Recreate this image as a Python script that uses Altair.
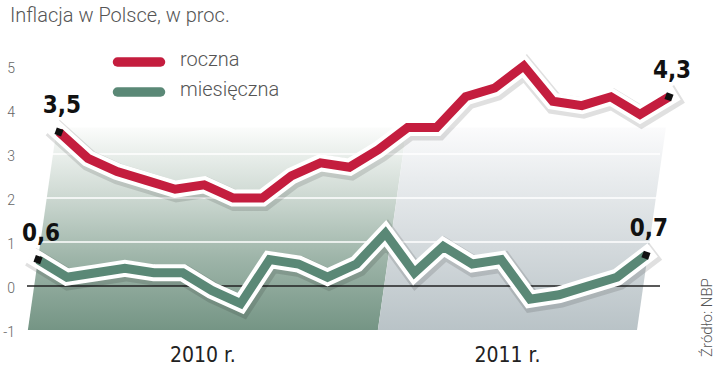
import altair as alt
import pandas as pd

# ---------------- data ----------------
months = list(range(22))  # styczeń 2010 .. październik 2011
roczna = [3.5, 2.9, 2.6, 2.4, 2.2, 2.3, 2.0, 2.0, 2.5, 2.8, 2.7, 3.1,
          3.6, 3.6, 4.3, 4.5, 5.0, 4.2, 4.1, 4.3, 3.9, 4.3]
miesieczna = [0.6, 0.2, 0.3, 0.4, 0.3, 0.3, -0.1, -0.4, 0.6, 0.5, 0.2, 0.5,
              1.2, 0.3, 0.9, 0.5, 0.6, -0.3, -0.2, 0.0, 0.2, 0.7]
series_names = ["roczna", "miesięczna"]
year_labels = ["2010 r.", "2011 r."]
year_start = [-0.35, 11.74]   # year panel edges in months (at the bottom)
year_end = [11.74, 20.69]
panel_skew = 1.0              # perspective lean of the panels (months)
panel_y = [-1, 3.6]
grid_values = [1, 2, 3]
y_ticks = [-1, 0, 1, 2, 3, 4, 5]
title_text = "Inflacja w Polsce, w proc."
source_text = "Źródło: NBP"

RED = "#c41d3e"
GREEN = "#5a8876"
COND = "Liberation Sans Narrow, DejaVu Sans Condensed, Roboto, sans-serif"
LIGHT = "Roboto, Liberation Sans, sans-serif"

df_r = pd.DataFrame({"idx": months, "v": roczna, "series": series_names[0]})
df_m = pd.DataFrame({"idx": months, "v": miesieczna, "series": series_names[1]})

rows = []
for name, s, e in zip(year_labels, year_start, year_end):
    rows.append({"panel": name, "y": panel_y[0], "xl": s, "xr": e})
    rows.append({"panel": name, "y": panel_y[1], "xl": s + panel_skew, "xr": e + panel_skew})
panel_df = pd.DataFrame(rows)
year_df = pd.DataFrame({"label": year_labels,
                        "x": [(s + e) / 2 for s, e in zip(year_start, year_end)],
                        "y": [panel_y[0]] * 2})
tick_df = pd.DataFrame({"t": y_ticks})

yscale = alt.Scale(domain=[-1, 5.5], nice=False, zero=False)
green_x = alt.Scale(domain=[-0.38, 21.485], nice=False, zero=False)
red_x = alt.Scale(domain=[-1.10, 20.69], nice=False, zero=False)


def grad(stops):
    return alt.Gradient(gradient="linear", x1=0, x2=0, y1=1, y2=0,
                        stops=[alt.GradientStop(color=c, offset=o) for o, c in stops])


area10 = alt.Chart(panel_df).transform_filter(alt.datum.panel == year_labels[0]).mark_area(
    orient="horizontal",
    color=grad([(0, "#759585"), (0.35, "#9db4a8"), (0.7, "#d3ddd7"), (1, "#fbfcfb")]),
).encode(
    y=alt.Y("y:Q", scale=yscale, axis=None),
    x=alt.X("xl:Q", scale=green_x, axis=None),
    x2="xr:Q",
)
area11 = alt.Chart(panel_df).transform_filter(alt.datum.panel == year_labels[1]).mark_area(
    orient="horizontal",
    color=grad([(0, "#b9c3c7"), (0.4, "#d3d9dc"), (0.75, "#e9ecee"), (1, "#fbfbfc")]),
).encode(
    y=alt.Y("y:Q", scale=yscale, axis=None),
    x=alt.X("xl:Q", scale=green_x, axis=None),
    x2="xr:Q",
)

ylabels = alt.Chart(tick_df).mark_text(
    align="right", baseline="middle", font=LIGHT, fontSize=14, fontWeight=300,
    color="#666", dy=3
).encode(
    x=alt.value(-12),
    y=alt.Y("t:Q", scale=yscale, axis=None),
    text="t:N",
)

grid = alt.Chart(pd.DataFrame({"g": grid_values})).mark_rule(
    color="white", strokeWidth=1.5
).encode(y=alt.Y("g:Q", scale=yscale, axis=None))

zero = alt.Chart(pd.DataFrame({"g": [0]})).mark_rule(
    color="#222", strokeWidth=1.3
).encode(y=alt.Y("g:Q", scale=yscale, axis=None))

years = alt.Chart(year_df).mark_text(
    font=COND, fontSize=21, color="#222", baseline="alphabetic", dy=32
).encode(
    x=alt.X("x:Q", scale=green_x, axis=None),
    y=alt.Y("y:Q", scale=yscale, axis=None),
    text="label:N",
)


def line_layers(df, scale, color):
    last = df["idx"].max()
    base = alt.Chart(df).encode(
        x=alt.X("idx:Q", scale=scale, axis=None),
        y=alt.Y("v:Q", scale=yscale, axis=None),
    )
    shadow = base.mark_line(color="#000", opacity=0.12, strokeWidth=21,
                            yOffset=2.5, xOffset=1.5, strokeJoin="miter", strokeCap="square")
    white = base.mark_line(color="white", strokeWidth=17, strokeJoin="miter", strokeCap="square")
    col = base.mark_line(color=color, strokeWidth=9, strokeJoin="miter")
    ends = base.transform_filter((alt.datum.idx == 0) | (alt.datum.idx == int(last)))
    marker = ends.mark_point(shape="square", filled=True, color="#111", size=50,
                             angle=20, opacity=1)
    label = ends.transform_calculate(
        lab="replace(format(datum.v, '.1f'), '.', ',')"
    ).mark_text(font=COND, fontSize=24, fontWeight="bold", color="#111",
                baseline="alphabetic", dy=-19, dx=3).encode(text="lab:N")
    return [shadow, white, col, marker, label]


legend_layers = []
for i, (name, color) in enumerate(zip(series_names, [RED, GREEN])):
    ly = 18 + 30 * i
    ldf = pd.DataFrame({"s": [name]})
    legend_layers.append(
        alt.Chart(ldf).mark_rule(color=color, strokeWidth=9.5, strokeCap="round").encode(
            x=alt.value(90.5), x2=alt.value(133.5), y=alt.value(ly)))
    legend_layers.append(
        alt.Chart(ldf).mark_text(align="left", baseline="middle", font=LIGHT, fontSize=20,
                                 fontWeight=300, color="#555", dy=-2).encode(
            x=alt.value(153), y=alt.value(ly), text="s:N"))

title = alt.Chart(pd.DataFrame({"t": [title_text]})).mark_text(
    align="left", baseline="alphabetic", font=LIGHT, fontSize=20, fontWeight=300, color="#555"
).encode(x=alt.value(-17), y=alt.value(-22), text="t:N")

source = alt.Chart(pd.DataFrame({"t": [source_text]})).mark_text(
    align="left", baseline="middle", angle=270, font=LIGHT, fontSize=15, fontWeight=300,
    color="#555"
).encode(x=alt.value(680), y=alt.value(313), text="t:N")

group_green = alt.layer(area10, area11, ylabels, grid, zero, years,
                        *line_layers(df_m, green_x, GREEN),
                        *legend_layers, title, source)
group_red = alt.layer(*line_layers(df_r, red_x, RED))

chart = alt.layer(group_green, group_red).resolve_scale(x="independent").properties(
    width=633, height=286,
    padding={"left": 27, "top": 44, "right": 60, "bottom": 48},
    autosize=alt.AutoSizeParams(type="none"),
    background="white",
).configure_view(stroke=None)

chart.save("out.html", embed_options={"renderer": "svg", "actions": False})
